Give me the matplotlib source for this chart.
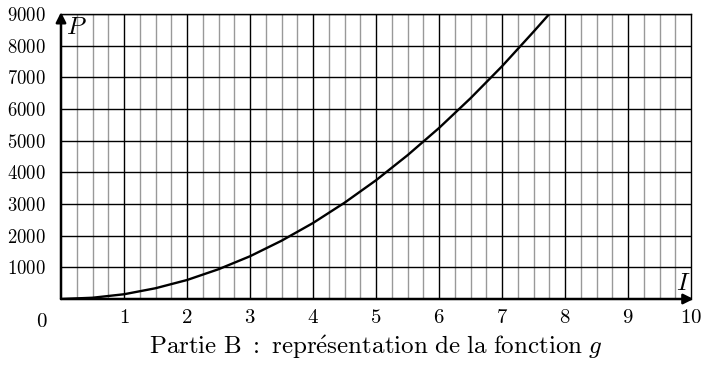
import matplotlib
matplotlib.use("Agg")
from matplotlib import pyplot as plt
import numpy as np

plt.rcParams['mathtext.fontset'] = 'cm'
plt.rcParams['font.family'] = ['cmr10', 'DejaVu Serif']

# valeurs (I en A, P en W)
I_vals = [0, 0.5, 1, 1.5, 2, 2.5, 3, 3.5, 4, 4.5, 5, 5.5, 6, 6.5, 7, 7.5, 7.75]
P_vals = [0, 40, 150, 340, 600, 940, 1350, 1840, 2400, 3040, 3750, 4540,
          5400, 6340, 7350, 8440, 9000]

x_ticks = list(range(1, 11))
y_ticks = list(range(1000, 10000, 1000))

fig = plt.figure(figsize=(7.06, 3.65), dpi=100)
ax = fig.add_axes([0.0864, 0.1808, 0.8924, 0.7808])
ax.set_xlim(0, 10)
ax.set_ylim(0, 9000)

# quadrillage
for x in np.arange(0.25, 10, 0.25):
    if abs(x - round(x)) < 1e-9:
        ax.axvline(x, color='black', lw=1.0, zorder=1)
    else:
        ax.axvline(x, color='#999999', lw=1.0, zorder=1)
for y in y_ticks:
    ax.axhline(y, color='black', lw=1.0, zorder=1)

for s in ['top', 'right']:
    ax.spines[s].set_linewidth(1.0)
for s in ['left', 'bottom']:
    ax.spines[s].set_visible(False)

# axes avec flèches
ax.annotate('', xy=(10.04, 0), xytext=(0, 0),
            arrowprops=dict(arrowstyle='-|>', lw=1.8, color='black',
                            mutation_scale=15, shrinkA=0, shrinkB=0),
            annotation_clip=False, zorder=5)
ax.annotate('', xy=(0, 9060), xytext=(0, 0),
            arrowprops=dict(arrowstyle='-|>', lw=1.8, color='black',
                            mutation_scale=15, shrinkA=0, shrinkB=0),
            annotation_clip=False, zorder=5)

ax.plot(I_vals, P_vals, color='black', lw=1.7, zorder=4)

ax.set_xticks(x_ticks)
ax.set_xticklabels([r'$%d$' % v for v in x_ticks], fontsize=15)
ax.set_yticks(y_ticks)
ax.set_yticklabels([r'$%d$' % v for v in y_ticks], fontsize=13.5)
ax.tick_params(length=0)
ax.tick_params(axis='x', pad=7)
ax.tick_params(axis='y', pad=11)

ax.text(-0.3, -430, r'$0$', fontsize=15, ha='center', va='top')
ax.text(0.24, 8560, r'$P$', fontsize=18, ha='center', va='center', zorder=6)
ax.text(9.87, 470, r'$I$', fontsize=18, ha='center', va='center', zorder=6)

fig.text(0.532, 0.030,
         r'$\mathrm{Partie\ B\ {:}\ repr\acute{e}sentation\ de\ la\ fonction}\ g$',
         fontsize=18, ha='center', va='baseline')

plt.savefig('out.png', dpi=100)
